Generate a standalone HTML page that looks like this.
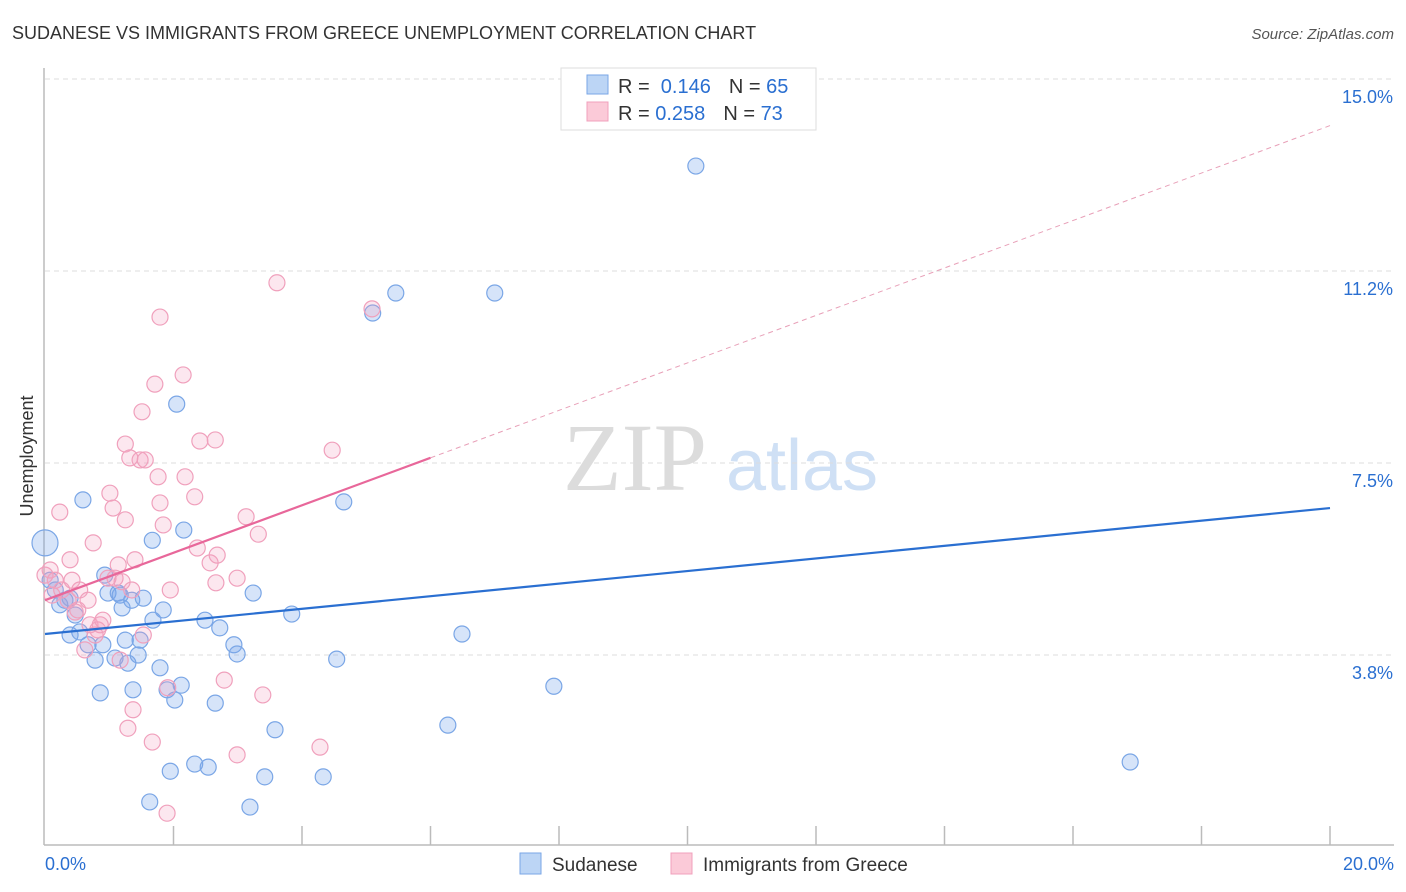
<!DOCTYPE html>
<html><head><meta charset="utf-8"><style>
body{margin:0;background:#fff;width:1406px;height:892px;overflow:hidden;font-family:"Liberation Sans",sans-serif;}
svg{display:block}
</style></head><body>
<svg id="chart" width="1406" height="892">
<text x="12" y="39" font-size="18" fill="#333">SUDANESE VS IMMIGRANTS FROM GREECE UNEMPLOYMENT CORRELATION CHART</text>
<text x="1394" y="39" font-size="15" fill="#555" font-style="italic" text-anchor="end">Source: ZipAtlas.com</text>
<text x="33" y="456" font-size="18" fill="#333" text-anchor="middle" transform="rotate(-90 33 456)">Unemployment</text>
<g><text x="635" y="490" font-size="96" font-family="Liberation Serif,serif" fill="#dcdcdc" text-anchor="middle">ZIP</text><text x="802" y="490" font-size="72" fill="#cfe0f5" text-anchor="middle">atlas</text></g>
<g id="grid"></g><g id="axes"></g><g id="marks"></g>
<g>
<rect x="561" y="68" width="255" height="62" fill="#fff" stroke="#ddd"/>
<rect x="587" y="75" width="21" height="19" fill="#bcd5f5" stroke="#7aa6e6"/>
<rect x="587" y="102" width="21" height="19" fill="#fbcad8" stroke="#f0a0bc"/>
<text x="618" y="93" font-size="20" fill="#333">R = <tspan fill="#2a6fd1">&#160;0.146</tspan><tspan dx="18">N = </tspan><tspan fill="#2a6fd1">65</tspan></text>
<text x="618" y="120" font-size="20" fill="#333">R = <tspan fill="#2a6fd1">0.258</tspan><tspan dx="18">N = </tspan><tspan fill="#2a6fd1">73</tspan></text>
</g>
<g>
<rect x="520" y="853" width="21" height="21" fill="#bcd5f5" stroke="#7aa6e6"/>
<text x="552" y="871" font-size="19" fill="#333">Sudanese</text>
<rect x="671" y="853" width="21" height="21" fill="#fbcad8" stroke="#f0a0bc"/>
<text x="703" y="871" font-size="19" fill="#333">Immigrants from Greece</text>
</g>
</svg>
<script>
const yTicks=[3.75,7.5,11.25,15];
const yTickLabels=["3.8%","7.5%","11.2%","15.0%"];
const xTickCount=10;
const blueX=[0,.08,.16,.23,.31,.39,.47,.39,.54,.59,.67,.78,.86,.90,.93,.98,1.09,1.14,1.17,1.20,1.25,1.29,1.35,1.37,1.45,1.48,1.53,1.63,1.67,1.68,1.79,1.84,1.90,1.95,2.02,2.05,2.12,2.16,2.33,2.49,2.54,2.65,2.72,2.94,2.99,3.19,3.24,3.42,3.58,3.84,4.33,4.54,4.65,5.10,5.46,6.27,6.49,7.00,7.92,10.13,16.89];
const blueY=[5.94,5.21,5.02,4.73,4.82,4.86,4.53,4.14,4.20,6.78,3.95,3.65,3.01,3.95,5.31,4.96,3.69,4.96,4.92,4.67,4.04,3.59,4.82,3.07,3.75,4.04,4.86,0.88,5.99,4.43,3.50,4.63,3.07,1.48,2.87,8.65,3.16,6.19,1.62,4.43,1.56,2.81,4.28,3.95,3.77,0.78,4.96,1.37,2.29,4.55,1.37,3.67,6.74,10.43,10.82,2.38,4.16,10.82,3.14,13.30,1.66];
const pinkX=[0,.08,.16,.11,.23,.26,.36,.39,.42,.47,.51,.54,.62,.67,.70,.75,.78,.82,.86,.90,.98,1.01,1.06,1.09,1.14,1.17,1.20,1.25,1.25,1.29,1.32,1.35,1.37,1.40,1.48,1.51,1.53,1.56,1.67,1.71,1.76,1.79,1.79,1.84,1.90,1.95,1.91,2.15,2.18,2.33,2.37,2.41,2.57,2.65,2.66,2.68,2.79,2.99,2.99,3.13,3.32,3.39,3.61,4.28,4.47,5.09];
const pinkY=[5.31,5.41,5.21,4.92,6.54,5.02,4.82,5.61,5.21,4.59,4.63,5.02,3.85,4.82,4.34,5.94,4.14,4.24,4.34,4.43,5.25,6.91,6.62,5.25,5.51,3.65,5.18,6.39,7.87,2.32,7.60,5.02,2.68,5.61,7.56,8.50,4.14,7.56,2.05,9.04,7.23,10.35,6.72,6.29,0.66,5.02,3.11,9.22,7.23,6.84,5.84,7.93,5.55,7.95,5.16,5.70,3.26,1.80,5.25,6.45,6.11,2.97,11.02,1.95,7.75,10.51];
const blueTrend=[4.16,6.62];
const pinkTrend=[4.82,14.09];
const pinkSolidEnd=6.0;
const NS="http://www.w3.org/2000/svg";
const X=v=>45+v/20*1285;
const Y=v=>847-v/15*768;
function mk(tag,attrs,parent){const e=document.createElementNS(NS,tag);for(const k in attrs)e.setAttribute(k,attrs[k]);document.getElementById(parent).appendChild(e);return e;}
yTicks.forEach((t,i)=>{
 const g=mk('line',{x1:45,x2:1394,y1:Y(t),y2:Y(t),stroke:'#ddd','stroke-dasharray':'5,4'},'grid');
 
 
 const l=mk('text',{x:1393,y:Y(t)+24,'font-size':18,fill:'#2a6fd1','text-anchor':'end'},'grid');
 l.textContent=yTickLabels[i];
 
 
});
let a=mk('line',{x1:44,x2:44,y1:68,y2:845,stroke:'#bbb','stroke-width':1.5},'axes');


a=mk('line',{x1:44,x2:1394,y1:845,y2:845,stroke:'#bbb','stroke-width':1.5},'axes');


for(let i=1;i<=xTickCount;i++){const t=mk('line',{x1:X(i*2),x2:X(i*2),y1:826,y2:845,stroke:'#bbb','stroke-width':1.5},'axes');
 
 }
let t0=mk('text',{x:45,y:870,'font-size':18,fill:'#2a6fd1'},'axes');t0.textContent='0.0%';


let t1=mk('text',{x:1394,y:870,'font-size':18,fill:'#2a6fd1','text-anchor':'end'},'axes');t1.textContent='20.0%';


blueX.forEach((x,i)=>{const c=mk('circle',{cx:X(x),cy:Y(blueY[i]),r:i==0?13:8,fill:'rgba(120,165,235,0.3)',stroke:'#7aa6e6','stroke-width':1.2},'marks');
 
 });
pinkX.forEach((x,i)=>{const c=mk('circle',{cx:X(x),cy:Y(pinkY[i]),r:8,fill:'rgba(245,160,190,0.25)',stroke:'#f0a0bc','stroke-width':1.2},'marks');
 
 });
let bl=mk('line',{x1:X(0),y1:Y(blueTrend[0]),x2:X(20),y2:Y(blueTrend[1]),stroke:'#2a6fd1','stroke-width':2.2},'marks');


const pAt=v=>pinkTrend[0]+(pinkTrend[1]-pinkTrend[0])*v/20;
let pd=mk('line',{x1:X(pinkSolidEnd),y1:Y(pAt(pinkSolidEnd)),x2:X(20),y2:Y(pinkTrend[1]),stroke:'#e8a0b8','stroke-width':1,'stroke-dasharray':'5,4'},'marks');


let ps=mk('line',{x1:X(0),y1:Y(pinkTrend[0]),x2:X(pinkSolidEnd),y2:Y(pAt(pinkSolidEnd)),stroke:'#e8679a','stroke-width':2.2},'marks');


</script>
</body></html>
